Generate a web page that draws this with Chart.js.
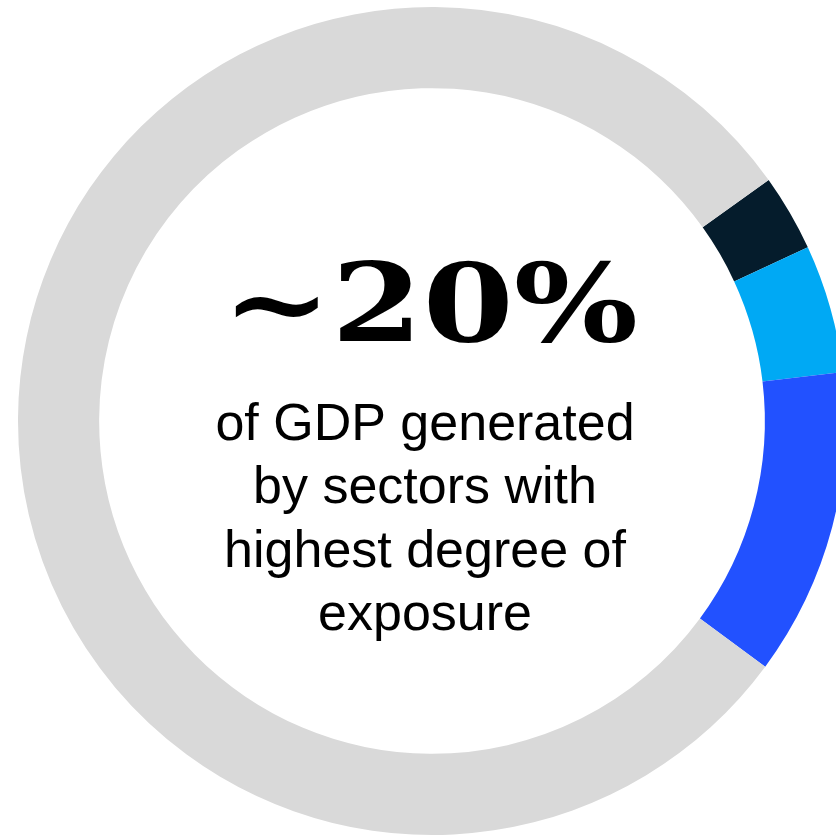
<!DOCTYPE html>
<html>
<head>
<meta charset="utf-8">
<script src="https://cdn.jsdelivr.net/npm/chart.js@4/dist/chart.umd.min.js"></script>
<style>
  html, body { margin: 0; padding: 0; background: #ffffff; overflow: hidden; }
  #wrap { position: absolute; left: 0; top: 0; width: 864px; height: 842px; }
</style>
</head>
<body>
<div id="wrap"><canvas id="chart"></canvas></div>
<script>
// Share of GDP by sector exposure group (percent)
const categories = ['Sector group A', 'Sector group B', 'Sector group C', 'All other sectors'];
const shares = [3, 5, 12, 80];
const colors = ['#051C2C', '#00A9F4', '#2251FF', '#D9D9D9'];
const headline = '~20%';
const caption = ['of GDP generated', 'by sectors with', 'highest degree of', 'exposure'];

const centerText = {
  id: 'centerText',
  afterDraw(chart) {
    const ctx = chart.ctx;
    const arc = chart.getDatasetMeta(0).data[0];
    const cx = arc.x, cy = arc.y;
    ctx.save();
    ctx.fillStyle = '#000000';
    ctx.textAlign = 'center';
    ctx.textBaseline = 'alphabetic';

    // Big headline figure, stretched to its set width
    ctx.font = 'bold 108px "DejaVu Serif"';
    const w = ctx.measureText(headline).width;
    const targetW = 416;
    ctx.save();
    ctx.translate(cx - 2, cy - 80);
    ctx.scale(targetW / w, 1);
    ctx.fillText(headline, 0, 0);
    ctx.restore();

    // Caption lines
    ctx.font = '52px "Liberation Sans", Arial, sans-serif';
    const lineH = 63.3;
    caption.forEach((line, i) => {
      ctx.fillText(line, cx - 7, cy + 19 + i * lineH);
    });
    ctx.restore();
  }
};

new Chart(document.getElementById('chart'), {
  type: 'doughnut',
  data: {
    labels: categories,
    datasets: [{
      data: shares,
      backgroundColor: colors,
      borderWidth: 0,
      hoverOffset: 0
    }]
  },
  options: {
    responsive: true,
    maintainAspectRatio: false,
    animation: false,
    rotation: 54.4,
    cutout: '80.4%',
    layout: { padding: 7 },
    plugins: {
      legend: { display: false },
      tooltip: { enabled: false }
    }
  },
  plugins: [centerText]
});
</script>
</body>
</html>
